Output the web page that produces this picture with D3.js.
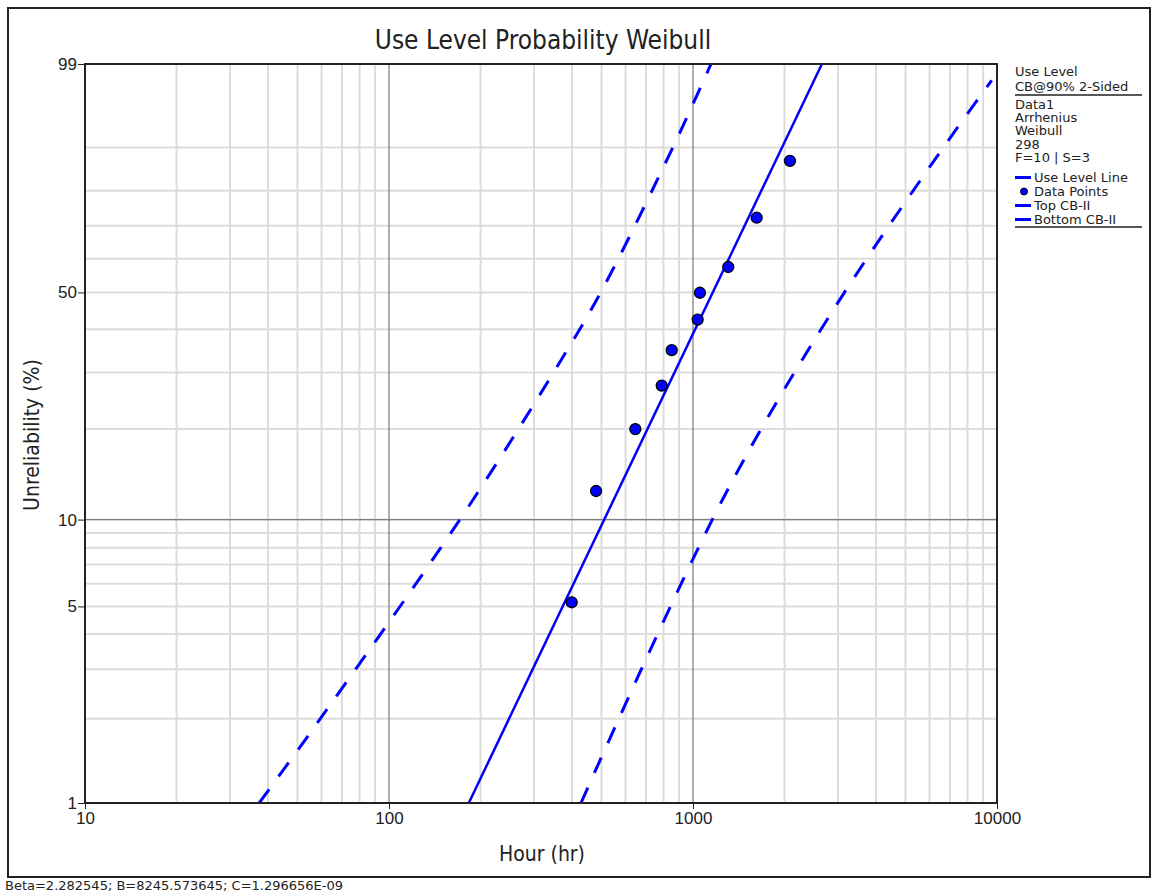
<!DOCTYPE html>
<html>
<head>
<meta charset="utf-8">
<script src="https://cdn.jsdelivr.net/npm/d3@7"></script>
<style>
  html, body { margin: 0; padding: 0; background: #fff; }
  svg { display: block; font-family: "DejaVu Sans Condensed", "DejaVu Sans", sans-serif; }
</style>
</head>
<body>
<svg id="chart" width="1153" height="892"></svg>
<script>
// ---------- data ----------
const chartTitle = "Use Level Probability Weibull";
const xLabel = "Hour (hr)";
const yLabel = "Unreliability (%)";
const footer = "Beta=2.282545; B=8245.573645; C=1.296656E-09";

const xTicks = [10, 100, 1000, 10000];
const yTicks = [1, 5, 10, 50, 99];
const yGrid = [1, 2, 3, 4, 5, 6, 7, 8, 9, 10, 20, 30, 40, 50, 60, 70, 80, 90];
const yMajorGrid = [10];

// data points: time (hr), unreliability (%)
const pointTimes = [399, 480, 646, 789, 851, 1036, 1054, 1306, 1620, 2084];
const pointUnrel = [5.17, 12.5, 20.0, 27.4, 34.9, 42.5, 49.9, 57.5, 72.4, 87.3];

// line vertices: time (hr), unreliability (%)
const useLineTimes = [183, 2655];
const useLineUnrel = [1, 99];
const topCBTimes = [37.4, 55.0, 171, 360, 502, 866, 1146];
const topCBUnrel = [1, 1.78, 10, 31.6, 50.7, 90.5, 99];
const bottomCBTimes = [428, 1256, 2823, 6494, 9608];
const bottomCBUnrel = [1, 11.8, 43.7, 89.1, 98.2];

const legendHeader = ["Use Level", "CB@90% 2-Sided"];
const legendInfo = ["Data1", "Arrhenius", "Weibull", "298", "F=10 | S=3"];
const legendItems = ["Use Level Line", "Data Points", "Top CB-II", "Bottom CB-II"];

// ---------- drawing ----------
const svg = d3.select("#chart");
const blue = "#0000ff";
const ink = "#222";
const W = p => Math.log(-Math.log(1 - p / 100));

const x = d3.scaleLog().domain([10, 10000]).range([85, 997]);
const y = d3.scaleLinear().domain([W(1), W(99)]).range([803, 64]);
const X0 = 85, X1 = 997, Y0 = 803, Y1 = 64;

// outer frame
svg.append("rect").attr("x", 8).attr("y", 8).attr("width", 1142).attr("height", 869)
  .attr("fill", "none").attr("stroke", ink).attr("stroke-width", 2);

svg.append("clipPath").attr("id", "plotclip").append("rect")
  .attr("x", X0).attr("y", Y1).attr("width", X1 - X0).attr("height", Y0 - Y1);

const grid = svg.append("g");
const vMinor = [];
for (let dec = 10; dec < 10000; dec *= 10) for (let k = 2; k <= 9; k++) vMinor.push(dec * k);
grid.selectAll("line.vmin").data(vMinor).join("line")
  .attr("x1", d => x(d)).attr("x2", d => x(d)).attr("y1", Y1).attr("y2", Y0)
  .attr("stroke", "#dcdcdc").attr("stroke-width", 2);
grid.selectAll("line.hmin").data(yGrid).join("line")
  .attr("x1", X0).attr("x2", X1).attr("y1", d => y(W(d))).attr("y2", d => y(W(d)))
  .attr("stroke", "#dcdcdc").attr("stroke-width", 2);
grid.selectAll("line.vmaj").data([100, 1000]).join("line")
  .attr("x1", d => x(d)).attr("x2", d => x(d)).attr("y1", Y1).attr("y2", Y0)
  .attr("stroke", "#808080").attr("stroke-width", 1.3);
grid.selectAll("line.hmaj").data(yMajorGrid).join("line")
  .attr("x1", X0).attr("x2", X1).attr("y1", d => y(W(d))).attr("y2", d => y(W(d)))
  .attr("stroke", "#808080").attr("stroke-width", 1.3);

// lines
const lineGen = d3.line().x(d => x(d[0])).y(d => y(W(d[1])));
const curveGen = d3.line().x(d => x(d[0])).y(d => y(W(d[1]))).curve(d3.curveCatmullRom.alpha(0.5));
const plot = svg.append("g").attr("clip-path", "url(#plotclip)");
plot.append("path").datum(d3.zip(useLineTimes, useLineUnrel))
  .attr("d", lineGen).attr("fill", "none").attr("stroke", blue).attr("stroke-width", 2.5);
plot.append("path").datum(d3.zip(topCBTimes, topCBUnrel))
  .attr("d", curveGen).attr("fill", "none").attr("stroke", blue).attr("stroke-width", 3)
  .attr("stroke-dasharray", "17,16");
plot.append("path").datum(d3.zip(bottomCBTimes, bottomCBUnrel))
  .attr("d", curveGen).attr("fill", "none").attr("stroke", blue).attr("stroke-width", 3)
  .attr("stroke-dasharray", "17,16");

plot.selectAll("circle.pt").data(d3.zip(pointTimes, pointUnrel)).join("circle")
  .attr("cx", d => x(d[0])).attr("cy", d => y(W(d[1]))).attr("r", 5.5)
  .attr("fill", blue).attr("stroke", "#000").attr("stroke-width", 1.3);

// plot frame
svg.append("rect").attr("x", X0).attr("y", Y1).attr("width", X1 - X0).attr("height", Y0 - Y1)
  .attr("fill", "none").attr("stroke", ink).attr("stroke-width", 2);

// axes
const xAxis = d3.axisBottom(x).tickValues(xTicks).tickFormat(d3.format("d")).tickSizeOuter(0).tickSize(6).tickPadding(3);
const gx = svg.append("g").attr("transform", `translate(0,${Y0})`).call(xAxis);
gx.select(".domain").remove();
gx.selectAll("line").attr("stroke", ink);
gx.selectAll("text").attr("font-size", 17).attr("fill", ink);

const yAxisScale = d3.scaleLinear().domain(y.domain()).range(y.range());
const yAxis = d3.axisLeft(yAxisScale).tickValues(yTicks.map(W))
  .tickFormat((d, i) => yTicks[i]).tickSizeOuter(0).tickSize(7).tickPadding(1);
const gy = svg.append("g").attr("transform", `translate(${X0},0)`).call(yAxis);
gy.select(".domain").remove();
gy.selectAll("line").attr("stroke", ink);
gy.selectAll("text").attr("font-size", 17).attr("fill", ink);

// titles
svg.append("text").attr("x", 543).attr("y", 49).attr("text-anchor", "middle")
  .attr("font-size", 26).attr("fill", ink).text(chartTitle);
svg.append("text").attr("x", 542).attr("y", 861).attr("text-anchor", "middle")
  .attr("font-size", 21).attr("fill", ink).text(xLabel);
svg.append("text").attr("transform", "translate(39,435) rotate(-90)").attr("text-anchor", "middle")
  .attr("font-size", 21).attr("fill", ink).text(yLabel);
svg.append("text").attr("x", 5).attr("y", 890).attr("font-size", 13)
  .attr("font-family", "DejaVu Sans").attr("fill", ink).text(footer);

// legend
const lg = svg.append("g").attr("font-size", 13).attr("font-family", "DejaVu Sans").attr("fill", ink);
lg.selectAll("text.hd").data(legendHeader).join("text")
  .attr("x", 1015).attr("y", (d, i) => 76 + i * 15).text(d => d);
lg.append("line").attr("x1", 1015).attr("x2", 1142).attr("y1", 95).attr("y2", 95)
  .attr("stroke", ink).attr("stroke-width", 1.5);
lg.selectAll("text.info").data(legendInfo).join("text")
  .attr("x", 1015).attr("y", (d, i) => 109 + i * 13.2).text(d => d);
const itemY = (i) => 182 + i * 14;
lg.selectAll("text.item").data(legendItems).join("text")
  .attr("x", 1034).attr("y", (d, i) => itemY(i)).text(d => d);
legendItems.forEach((d, i) => {
  if (i === 1) {
    lg.append("circle").attr("cx", 1024).attr("cy", itemY(i) - 4.5).attr("r", 3.5)
      .attr("fill", blue).attr("stroke", "#000").attr("stroke-width", 1);
  } else {
    lg.append("line").attr("x1", 1015).attr("x2", 1031).attr("y1", itemY(i) - 4.5).attr("y2", itemY(i) - 4.5)
      .attr("stroke", blue).attr("stroke-width", 3);
  }
});
lg.append("line").attr("x1", 1015).attr("x2", 1142).attr("y1", 227).attr("y2", 227)
  .attr("stroke", ink).attr("stroke-width", 1.5);
</script>
</body>
</html>
